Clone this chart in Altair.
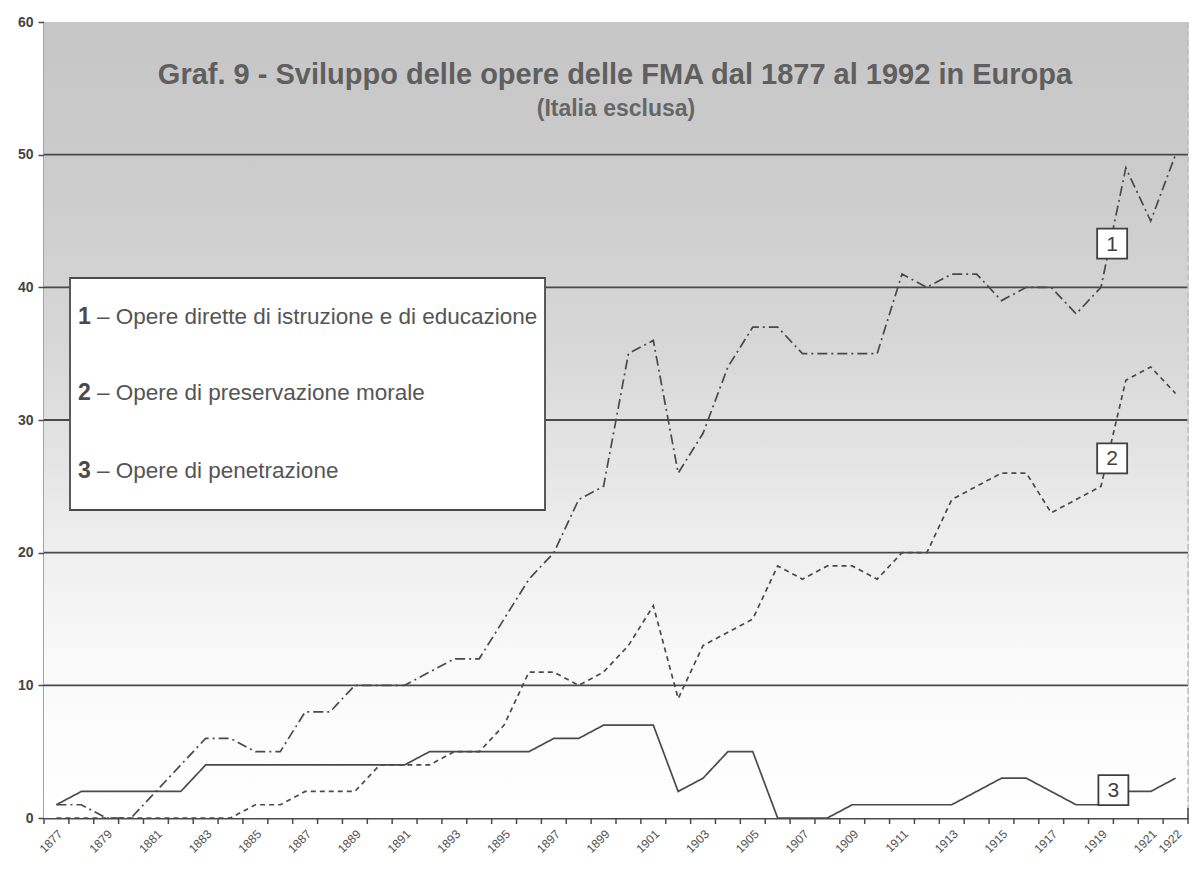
import altair as alt
import pandas as pd

# ---------------- data ----------------
years = list(range(1877, 1923))
serie1 = [1, 1, 0, 0, 2, 4, 6, 6, 5, 5,
          8, 8, 10, 10, 10, 11, 12, 12, 15, 18,
          20, 24, 25, 35, 36, 26, 29, 34, 37, 37,
          35, 35, 35, 35, 41, 40, 41, 41, 39, 40,
          40, 38, 40, 49, 45, 50]
serie2 = [0, 0, 0, 0, 0, 0, 0, 0, 1, 1,
          2, 2, 2, 4, 4, 4, 5, 5, 7, 11,
          11, 10, 11, 13, 16, 9, 13, 14, 15, 19,
          18, 19, 19, 18, 20, 20, 24, 25, 26, 26,
          23, 24, 25, 33, 34, 32]
serie3 = [1, 2, 2, 2, 2, 2, 4, 4, 4, 4,
          4, 4, 4, 4, 4, 5, 5, 5, 5, 5,
          6, 6, 7, 7, 7, 2, 3, 5, 5, 0,
          0, 0, 1, 1, 1, 1, 1, 2, 3, 3,
          2, 1, 1, 2, 2, 3]
series_ids = ["1", "2", "3"]
label_years = [y for y in years if y % 2 == 1] + [1922]
legend_numbers = ["1", "2", "3"]
legend_texts = [
    "\u2013 Opere dirette di istruzione e di educazione",
    "\u2013 Opere di preservazione morale",
    "\u2013 Opere di penetrazione",
]
y_ticks = [0, 10, 20, 30, 40, 50, 60]
grid_values = [10, 20, 30, 40, 50]
title_text = "Graf. 9 - Sviluppo delle opere delle FMA dal 1877 al 1992 in Europa"
subtitle_text = "(Italia esclusa)"

# label boxes (series id, year position, value position)
box_ids = ["1", "2", "3"]
box_years = [1919.45, 1919.45, 1919.5]
box_vals = [43.3, 27.1, 2.1]

df = pd.DataFrame({
    "anno": years * 3,
    "valore": serie1 + serie2 + serie3,
    "serie": ["1"] * len(years) + ["2"] * len(years) + ["3"] * len(years),
})

# ---------------- layout / style ----------------
W, H = 1144, 796
LINE = "#4a4a4a"
FONT = "Liberation Sans"

x_lo, x_hi = years[0] - 0.5, years[-1] + 0.5
xscale = alt.Scale(domain=[x_lo, x_hi], nice=False, zero=False)
yscale = alt.Scale(domain=[0, 60], nice=False, zero=True)

# category boundaries (tick marks sit between the years)
tick_pos = [x_lo + k for k in range(len(years) + 1)]

x_axis = alt.Axis(
    values=label_years, format="d",
    labelAngle=315, labelAlign="right", labelBaseline="top",
    labelOverlap=False, labelFlush=False, labelBound=False, grid=False, ticks=False,
    labelFont=FONT, labelFontSize=12, labelColor="#4f4f4f", labelPadding=10,
    domainColor=LINE, domainWidth=2,
)
y_axis = alt.Axis(
    values=y_ticks, format="d", grid=False,
    labelFont=FONT, labelFontSize=14, labelFontWeight="bold", labelColor="#444444",
    labelPadding=5, tickColor=LINE, tickSize=6, tickWidth=1.5,
    domainColor=LINE, domainWidth=2,
)

one = pd.DataFrame({"k": [0]})

bg = alt.Chart(one).mark_rect(
    fill=alt.LinearGradient(
        gradient="linear", x1=0, x2=0, y1=0, y2=1,
        stops=[
            alt.GradientStop(color="#c6c6c6", offset=0.0),
            alt.GradientStop(color="#cccccc", offset=0.2),
            alt.GradientStop(color="#d8d8d8", offset=0.42),
            alt.GradientStop(color="#ebebeb", offset=0.62),
            alt.GradientStop(color="#f9f9f9", offset=0.8),
            alt.GradientStop(color="#ffffff", offset=1.0),
        ],
    )
).encode(x=alt.value(0), x2=alt.value(W), y=alt.value(0), y2=alt.value(H))

grid = alt.Chart(pd.DataFrame({"g": grid_values})).mark_rule(
    color=LINE, strokeWidth=1.8
).encode(y=alt.Y("g:Q", scale=yscale, axis=y_axis, title=None))

right_edge = alt.Chart(one).mark_rule(color="#bdbdbd", strokeWidth=1.5, strokeDash=[6, 3]).encode(
    x=alt.value(W), y=alt.value(0), y2=alt.value(H)
)
right_tick = alt.Chart(one).mark_rule(color=LINE, strokeWidth=1.5).encode(
    x=alt.value(W), y=alt.value(H - 10), y2=alt.value(H)
)

x_ticks = alt.Chart(pd.DataFrame({"t": tick_pos})).mark_rule(
    color=LINE, strokeWidth=1.5
).encode(
    x=alt.X("t:Q", scale=xscale, axis=x_axis, title=None),
    y=alt.value(H), y2=alt.value(H + 6),
)

lines = alt.Chart(df).mark_line(color=LINE, strokeWidth=1.7).encode(
    x=alt.X("anno:Q", scale=xscale, axis=x_axis, title=None),
    y=alt.Y("valore:Q", scale=yscale, axis=y_axis, title=None),
    strokeDash=alt.StrokeDash(
        "serie:N",
        scale=alt.Scale(domain=series_ids, range=[[10, 4, 2, 4], [5, 4], [1, 0]]),
        legend=None,
    ),
    detail="serie:N",
)

legend_box = alt.Chart(one).mark_rect(fill="white", stroke=LINE, strokeWidth=1.8).encode(
    x=alt.value(26), x2=alt.value(501), y=alt.value(256), y2=alt.value(488)
)

legend_layers = []
for num, txt, ypix in zip(legend_numbers, legend_texts, [295, 371, 449]):
    legend_layers.append(
        alt.Chart(one).mark_text(
            text=num, font=FONT, fontSize=23, fontWeight="bold", color="#4a4a4a",
            align="left", baseline="middle",
        ).encode(x=alt.value(34), y=alt.value(ypix))
    )
    legend_layers.append(
        alt.Chart(one).mark_text(
            text=txt, font=FONT, fontSize=22.5, color="#555555",
            align="left", baseline="middle",
        ).encode(x=alt.value(53), y=alt.value(ypix))
    )

boxes_df = pd.DataFrame({"id": box_ids, "anno": box_years, "valore": box_vals})
boxes = alt.Chart(boxes_df).mark_square(
    size=900, filled=True, fill="white", stroke="#3f3f3f", strokeWidth=1.8, opacity=1
).encode(x=alt.X("anno:Q", scale=xscale), y=alt.Y("valore:Q", scale=yscale))
box_text = alt.Chart(boxes_df).mark_text(
    font=FONT, fontSize=21, color="#3f3f3f", align="center", baseline="middle", dy=1
).encode(x=alt.X("anno:Q", scale=xscale), y=alt.Y("valore:Q", scale=yscale), text="id:N")

title = alt.Chart(one).mark_text(
    text=title_text, font=FONT, fontSize=29, fontWeight="bold", color="#5f5f5f",
    align="center", baseline="middle",
).encode(x=alt.value(571), y=alt.value(53))
subtitle = alt.Chart(one).mark_text(
    text=subtitle_text, font=FONT, fontSize=23, fontWeight="bold", color="#666666",
    align="center", baseline="middle",
).encode(x=alt.value(572), y=alt.value(87))

chart = alt.layer(
    bg, grid, right_edge, right_tick, x_ticks, lines, legend_box, *legend_layers,
    boxes, box_text, title, subtitle,
).properties(
    width=W, height=H,
    autosize=alt.AutoSizeParams(type="none"),
    padding={"left": 36, "top": 14, "right": 2, "bottom": 55},
).configure_view(stroke=None).configure(background="white")

chart.save("out.html", embed_options={"renderer": "svg", "actions": False})
